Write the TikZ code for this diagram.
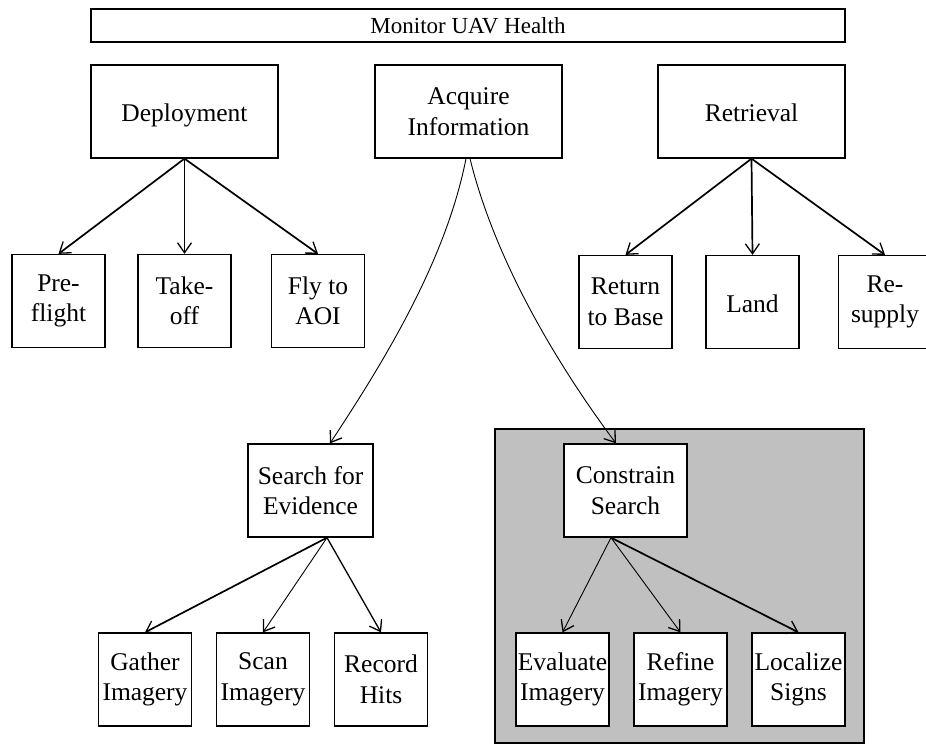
\documentclass[tikz,border=0pt]{standalone}
\usepackage{fontspec}
\setmainfont{Liberation Serif}
\usetikzlibrary{arrows.meta}
\definecolor{panelgray}{RGB}{192,192,192}
\begin{document}
\begin{tikzpicture}[x=1pt,y=-1pt,
  box/.style={draw=black,line width=1.3pt,fill=white,inner sep=0pt,align=center,
    font=\fontsize{25.5}{30.5}\selectfont},
  bigbox/.style={box,minimum width=187pt,minimum height=93pt},
  leaf/.style={box,minimum width=93pt,minimum height=93pt},
  midbox/.style={box,minimum width=125pt,minimum height=93pt},
  oneline/.style={text height=21pt,text depth=1pt},
  arr/.style={-{Straight Barb[length=10pt,width=14pt,line width=1.3pt]},line width=1.7pt},
  arrthin/.style={arr,line width=0.9pt},
  arrmid/.style={arr,line width=1.3pt}]
\useasboundingbox (0,0) rectangle (926,744);
\fill[white] (0,0) rectangle (926,744);
% gray panel
\draw[fill=panelgray,line width=1.3pt] (495,429) rectangle (864,743);
% top bar
\node[box,minimum width=754pt,minimum height=33pt,font=\fontsize{23}{27}\selectfont] (mon) at (468,25.5) {Monitor UAV Health};
% second level
\node[bigbox,oneline] (dep) at (184.5,111.5) {Deployment};
\node[bigbox] (acq) at (468.5,111.5) {Acquire\\Information};
\node[bigbox,oneline] (ret) at (751.5,111.5) {Retrieval};
% deployment leaves
\node[leaf] (pre) at (58.5,301) {Pre-\\flight};
\node[leaf] (tak) at (184.5,301) {Take-\\off};
\node[leaf] (fly) at (318,301) {Fly to\\AOI};
% retrieval leaves
\node[leaf] (rtb) at (625.5,302) {Return\\to Base};
\node[leaf,oneline] (lan) at (752.5,302) {Land};
\node[leaf] (res) at (885,302) {Re-\\supply};
% search
\node[midbox] (sea) at (310.5,490.5) {Search for\\Evidence};
\node[leaf] (gat) at (145,679.5) {Gather\\Imagery};
\node[leaf] (sca) at (263,679.5) {Scan\\Imagery};
\node[leaf] (rec) at (381,679.5) {Record\\Hits};
% constrain
\node[box,minimum width=123pt,minimum height=93pt] (con) at (625.5,490.5) {Constrain\\Search};
\node[leaf] (eva) at (562.5,679.5) {Evaluate\\Imagery};
\node[leaf] (ref) at (680.5,679.5) {Refine\\Imagery};
\node[leaf] (loc) at (798.5,679.5) {Localize\\Signs};
% arrows
\draw[arr] (dep.south) -- (pre.north);
\draw[arr] (dep.south) -- (tak.north);
\draw[arr] (dep.south) -- (fly.north);
\draw[arr] (ret.south) -- (rtb.north);
\draw[arr] (ret.south) -- (lan.north);
\draw[arr] (ret.south) -- (res.north);
\draw[arrthin] ([xshift=-2.5pt]acq.south) .. controls (446,260) and (385,360) .. ([xshift=19.5pt]sea.north);
\draw[arrthin] ([xshift=1.5pt]acq.south) .. controls (495,260) and (556,363) .. ([xshift=-9.5pt]con.north);
\draw[arr] ([xshift=16.5pt]sea.south) -- (gat.north);
\draw[arrthin] ([xshift=16.5pt]sea.south) -- (sca.north);
\draw[arrmid] ([xshift=16.5pt]sea.south) -- (rec.north);
\draw[arrthin] ([xshift=-14.5pt]con.south) -- (eva.north);
\draw[arrthin] ([xshift=-14.5pt]con.south) -- (ref.north);
\draw[arr] ([xshift=-14.5pt]con.south) -- (loc.north);
\end{tikzpicture}
\end{document}
